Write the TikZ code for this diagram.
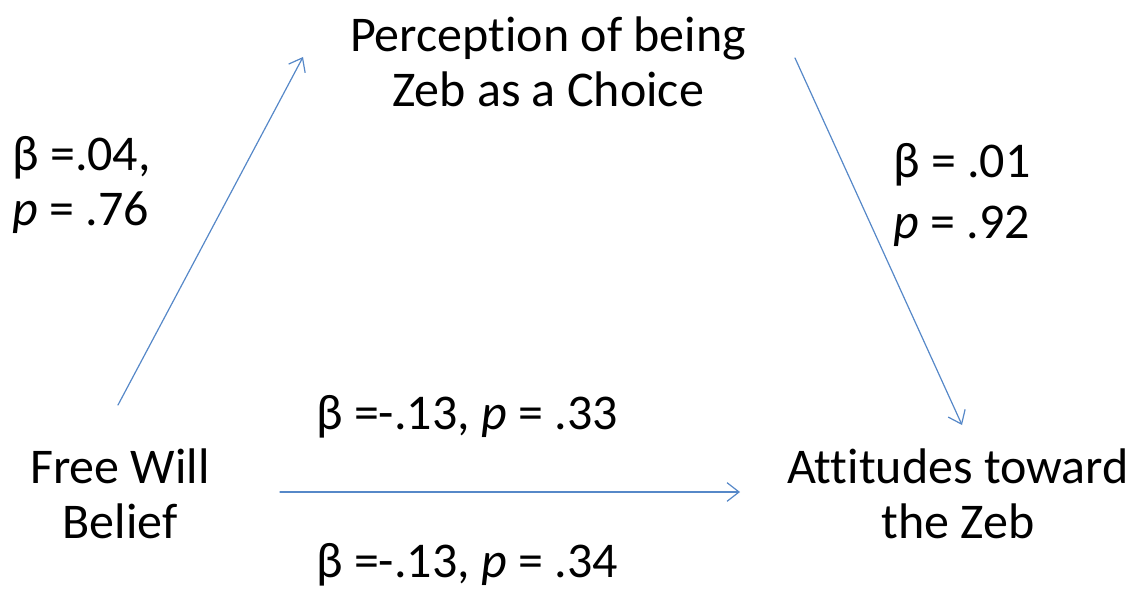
\documentclass[tikz,border=0pt]{standalone}
\usepackage{fontspec}
\setmainfont[Ligatures=NoCommon]{Carlito}
\usetikzlibrary{arrows.meta,positioning}
\definecolor{pathblue}{RGB}{86,136,200}

\begin{document}
\begin{tikzpicture}[
  x=0.75pt,y=-0.75pt,
  line cap=round,
  line join=round,
  every node/.style={font=\fontsize{37.5}{41}\selectfont,inner sep=0pt},
  varbox/.style={align=center},
  coefbox/.style={align=left},
  path/.style={draw=pathblue,line width=0.9pt,-{Straight Barb[length=9pt,width=14pt]}}
]
% Bounding box.
\useasboundingbox (0,0) rectangle (1135,592);

% Variables.
\node[varbox] (percep) at (548,62) {Perception of being\\Zeb as a Choice};
\node[varbox] (freewill) at (120,494) {Free Will\\Belief};
\node[varbox] (attitude) at (958,494) {Attitudes toward\\the Zeb};

% Path ends.
\coordinate (aStart) at (118,405);
\coordinate (aEnd) at (303,57);
\coordinate (bStart) at (795,58);
\coordinate (bEnd) at (962,425);
\coordinate (cStart) at (280,492);
\coordinate (cEnd) at (740,492);

\draw[path] (aStart) -- (aEnd);
\draw[path] (bStart) -- (bEnd);
\draw[path] (cStart) -- (cEnd);

% Coefficients.
\node[coefbox,anchor=west] (coefA) at (12,185) {β =.04,\\\textit{p} = .76};
\node[coefbox,anchor=west] (coefB) at (893,195) {β = .01\\[4.5pt]\textit{p} = .92};
\node (coefC) at (467,417) {β =-.13, \textit{p} = .33};
\node (coefD) at (467,565) {β =-.13, \textit{p} = .34};
\end{tikzpicture}
\end{document}
